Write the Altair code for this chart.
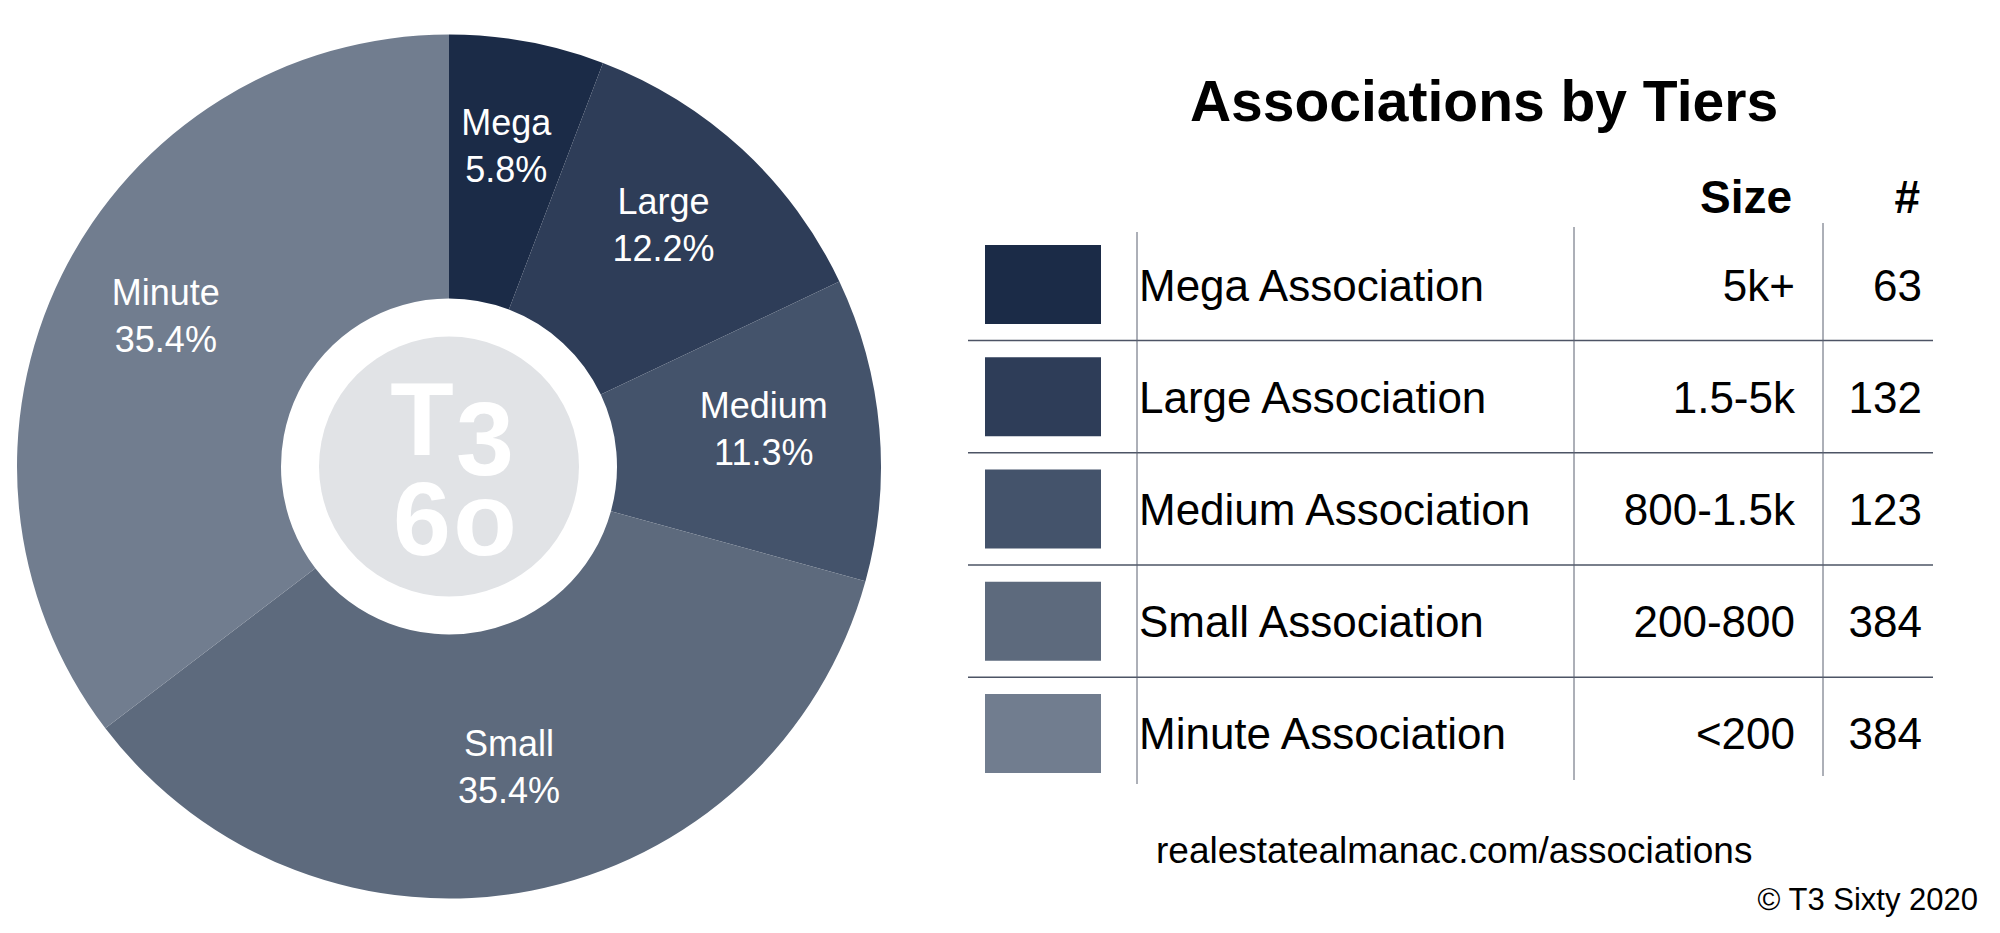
import altair as alt
import pandas as pd

# ---- data ----
tiers = ["Mega", "Large", "Medium", "Small", "Minute"]
full_names = ["Mega Association", "Large Association", "Medium Association",
              "Small Association", "Minute Association"]
size_ranges = ["5k+", "1.5-5k", "800-1.5k", "200-800", "<200"]
counts = [63, 132, 123, 384, 384]
shares = [5.8, 12.2, 11.3, 35.4, 35.4]
colors = ["#1b2b47", "#2e3d58", "#44536b", "#5d6a7d", "#717d8f"]

title_text = "Associations by Tiers"
header_size = "Size"
header_count = "#"
footer_url = "realestatealmanac.com/associations"
footer_copy = "\u00a9 T3 Sixty 2020"
logo_left = "T\n6"
logo_right = "3\no"

FONT = "Liberation Sans"

df = pd.DataFrame({
    "idx": list(range(len(tiers))),
    "tier": tiers,
    "name": full_names,
    "size": size_ranges,
    "count": counts,
    "share": shares,
})
one = pd.DataFrame({"k": [0]})

color_scale = alt.Scale(domain=tiers, range=colors)
base = alt.Chart(df)

# ---------------- left panel: donut ----------------
ring = base.mark_arc(outerRadius=432, innerRadius=168).encode(
    theta=alt.Theta("count:Q", stack=True),
    color=alt.Color("tier:N", scale=color_scale, legend=None),
    order=alt.Order("idx:Q"),
)

disk = alt.Chart(one).mark_arc(
    theta=0, theta2=6.2832, outerRadius=130, innerRadius=0
).encode(color=alt.value("#e1e3e6"))

labels = base.transform_calculate(
    label="datum.tier + '\\n' + format(datum.share, '.1f') + '%'"
).mark_text(
    radius=316, fontSize=36, color="white", font=FONT, lineBreak="\n",
    lineHeight=47, baseline="middle", align="center", dy=-32
).encode(
    theta=alt.Theta("count:Q", stack=True),
    order=alt.Order("idx:Q"),
    text=alt.Text("label:N"),
)

def logo_col(txt, x, y, lh):
    return alt.Chart(one).mark_text(
        text=txt, fontSize=104, fontWeight="bold", font=FONT, color="white",
        align="center", baseline="alphabetic", lineBreak="\n", lineHeight=lh
    ).encode(x=alt.value(x), y=alt.value(y))

logo = [logo_col(logo_left, 414, 447, 100), logo_col(logo_right, 477, 467, 80)]

left = alt.layer(ring, disk, labels, *logo).properties(width=882, height=917)

# ---------------- right panel: table ----------------
y_scale = alt.Scale(range=[237, 765], paddingInner=0.295, paddingOuter=0)
Y = alt.Y("idx:O", scale=y_scale, axis=None)

swatches = base.mark_rect().encode(
    y=Y, x=alt.value(95), x2=alt.value(211),
    color=alt.Color("tier:N", scale=color_scale, legend=None),
)

row_style = dict(fontSize=44, font=FONT, color="black", baseline="alphabetic", yOffset=16)
names = base.mark_text(align="left", **row_style).encode(
    y=Y, x=alt.value(249), text="name:N")
sizes = base.mark_text(align="right", **row_style).encode(
    y=Y, x=alt.value(905), text="size:N")
nums = base.mark_text(align="right", **row_style).encode(
    y=Y, x=alt.value(1032), text="count:Q")

hlines = base.transform_filter("datum.idx < 4").mark_rule(
    color="#4d5465", strokeWidth=1.5, yOffset=56
).encode(
    y=alt.Y("idx:O", scale=y_scale, axis=None, bandPosition=0.5),
    x=alt.value(78), x2=alt.value(1043),
)

def vline(x, y1, y2):
    return alt.Chart(one).mark_rule(color="#5a6070", strokeWidth=1).encode(
        x=alt.value(x), y=alt.value(y1), y2=alt.value(y2))

vlines = [vline(247, 224, 776), vline(684, 219, 772), vline(933, 215, 768)]

def label(txt, x, y, size, weight="normal", align="left"):
    return alt.Chart(one).mark_text(
        text=txt, fontSize=size, fontWeight=weight, font=FONT, color="black",
        align=align, baseline="alphabetic"
    ).encode(x=alt.value(x), y=alt.value(y))

title = label(title_text, 594, 113, 57, "bold", "center")
h1 = label(header_size, 902, 205, 46, "bold", "right")
h2 = label(header_count, 1030, 205, 46, "bold", "right")
f1 = label(footer_url, 266, 855, 37)
f2 = label(footer_copy, 1088, 902, 31, align="right")

right = alt.layer(swatches, hlines, *vlines, names, sizes, nums,
                  title, h1, h2, f1, f2).properties(width=1100, height=917)

chart = alt.hconcat(left, right, spacing=0).properties(
    padding=0, background="white"
).configure_view(strokeWidth=0)

chart.save("out.html", embed_options={"renderer": "svg", "actions": False})
